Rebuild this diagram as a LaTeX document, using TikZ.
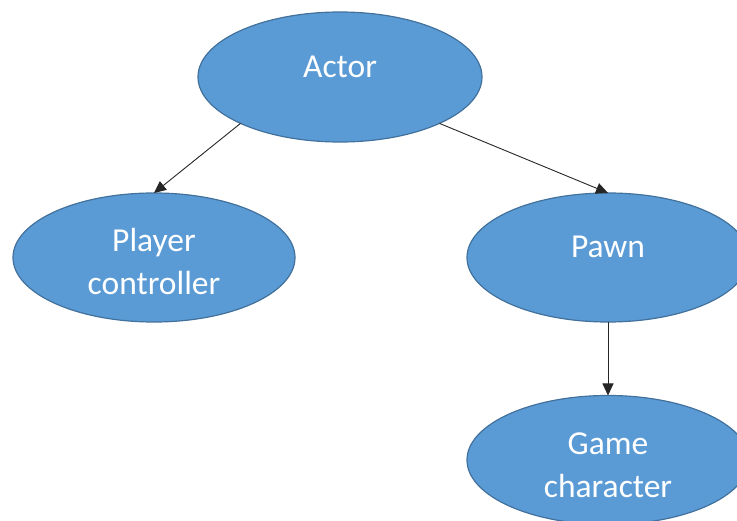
\documentclass[tikz,border=0pt]{standalone}
\usepackage{fontspec}
\setmainfont{Carlito}
\usetikzlibrary{shapes.geometric,arrows.meta}

\definecolor{bubblefill}{HTML}{5B9BD5}
\definecolor{bubbleedge}{HTML}{41719C}

\tikzset{
  bubble/.style={ellipse, fill=bubblefill, draw=bubbleedge, line width=1.2pt,
    inner sep=0pt, outer sep=0pt, minimum width=282pt, minimum height=129pt},
  caption/.style={text=white, anchor=base, inner sep=0pt, align=center,
    font=\fontsize{33.5}{43}\selectfont},
  link/.style={line width=0.9pt, draw=black!85,
    -{Triangle[length=12pt,width=11pt]}},
}

\begin{document}
\begin{tikzpicture}[x=1pt, y=-1pt]
  \useasboundingbox (0,0) rectangle (737,521);
  \clip (0,0) rectangle (737,521);

  % class hierarchy bubbles
  \node[bubble, minimum width=284pt, minimum height=130pt] (actor) at (340,77) {};
  \node[bubble] (player) at (154,257.5) {};
  \node[bubble] (pawn)   at (608,257.5) {};
  \node[bubble] (game)   at (608,460)   {};

  % labels (base anchor sits on the last line's baseline)
  \node[caption] (actorlbl)  at (340,78)  {Actor};
  \node[caption] (playerlbl) at (154,295) {Player\\controller};
  \node[caption] (pawnlbl)   at (608,258) {Pawn};
  \node[caption] (gamelbl)   at (608,497) {Game\\character};

  % inheritance arrows
  \draw[link] (actor.205.4) -- (player.north);
  \draw[link] (actor.335.3) -- (pawn.north);
  \draw[link] (pawn.south) -- (game.north);
\end{tikzpicture}
\end{document}
